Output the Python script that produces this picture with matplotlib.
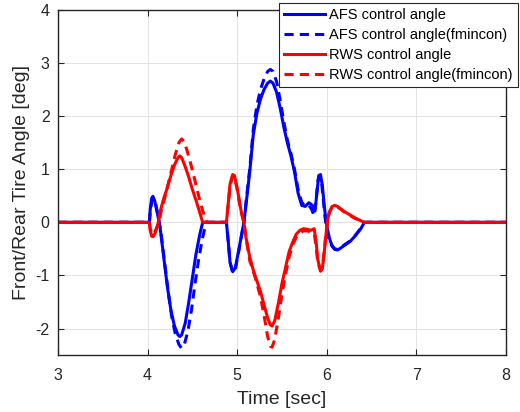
import matplotlib
matplotlib.use("Agg")
import matplotlib.pyplot as plt

plt.rcParams['font.family'] = ['Liberation Sans', 'DejaVu Sans']
plt.rcParams['axes.unicode_minus'] = False

# AFS control angle (solid)
t_afs = [3.0, 4.02, 4.03, 4.045, 4.06, 4.08, 4.10, 4.12, 4.14, 4.18, 4.22, 4.26, 4.30, 4.34, 4.36,
         4.38, 4.42, 4.46, 4.50, 4.54, 4.58, 4.615, 4.88, 4.90, 4.92, 4.95, 4.98, 5.02, 5.075, 5.10,
         5.14, 5.18, 5.22, 5.26, 5.30, 5.34, 5.37, 5.40, 5.44, 5.48, 5.52, 5.56, 5.60, 5.64, 5.68,
         5.72, 5.76, 5.80, 5.84, 5.87, 5.89, 5.91, 5.93, 5.95, 5.97, 5.99, 6.01, 6.03, 6.06, 6.09,
         6.12, 6.15, 6.20, 6.26, 6.32, 6.38, 6.42, 8.0]
afs = [0, 0, 0.25, 0.45, 0.49, 0.40, 0.25, 0.08, -0.10, -0.65, -1.20, -1.65, -1.95, -2.12, -2.15,
       -2.12, -1.90, -1.50, -1.05, -0.60, -0.25, 0, 0, -0.35, -0.75, -0.93, -0.85, -0.50, 0.0, 0.35,
       0.95, 1.65, 2.05, 2.32, 2.50, 2.62, 2.66, 2.62, 2.45, 2.15, 1.80, 1.50, 1.25, 0.95, 0.55,
       0.32, 0.30, 0.37, 0.32, 0.24, 0.55, 0.88, 0.90, 0.70, 0.35, 0.05, -0.15, -0.30, -0.45, -0.51,
       -0.52, -0.49, -0.43, -0.36, -0.25, -0.12, 0, 0]

# AFS control angle (fmincon)
t_afs_f = [3.0, 4.02, 4.03, 4.05, 4.07, 4.09, 4.11, 4.13, 4.15, 4.19, 4.23, 4.27, 4.31, 4.35, 4.38,
           4.41, 4.45, 4.49, 4.53, 4.57, 4.61, 4.64, 4.66, 4.88, 4.90, 4.92, 4.95, 4.98, 5.02, 5.075,
           5.10, 5.14, 5.18, 5.22, 5.26, 5.30, 5.34, 5.37, 5.40, 5.44, 5.48, 5.52, 5.56, 5.60, 5.64,
           5.68, 5.72, 5.76, 5.80, 5.83, 5.86, 5.88, 5.90, 5.92, 5.94, 5.96, 5.98, 6.00, 6.02, 6.05,
           6.09, 6.12, 6.15, 6.20, 6.26, 6.32, 6.38, 6.42, 8.0]
afs_f = [0, 0, 0.20, 0.42, 0.45, 0.35, 0.18, 0.0, -0.20, -0.75, -1.30, -1.78, -2.10, -2.30, -2.37,
         -2.30, -2.05, -1.65, -1.15, -0.70, -0.32, -0.10, 0, 0, -0.35, -0.75, -0.95, -0.88, -0.52, 0.0,
         0.40, 1.00, 1.75, 2.20, 2.50, 2.70, 2.84, 2.88, 2.84, 2.65, 2.30, 1.90, 1.55, 1.30, 1.00,
         0.62, 0.38, 0.30, 0.32, 0.25, 0.12, 0.40, 0.78, 0.88, 0.80, 0.45, 0.10, -0.15, -0.30, -0.42,
         -0.50, -0.51, -0.48, -0.42, -0.35, -0.24, -0.11, 0, 0]

# RWS control angle (solid)
t_rws = [3.0, 4.02, 4.03, 4.045, 4.06, 4.08, 4.10, 4.12, 4.14, 4.18, 4.22, 4.26, 4.30, 4.34, 4.36,
         4.38, 4.42, 4.46, 4.50, 4.54, 4.58, 4.615, 4.88, 4.90, 4.92, 4.95, 4.97, 5.00, 5.04, 5.075,
         5.10, 5.14, 5.18, 5.22, 5.26, 5.30, 5.34, 5.37, 5.39, 5.42, 5.46, 5.50, 5.54, 5.58, 5.62,
         5.66, 5.70, 5.74, 5.78, 5.82, 5.86, 5.88, 5.90, 5.93, 5.95, 5.97, 5.99, 6.01, 6.03, 6.06,
         6.09, 6.12, 6.16, 6.20, 6.26, 6.32, 6.38, 6.42, 8.0]
rws = [0, 0, -0.15, -0.26, -0.27, -0.22, -0.12, 0.0, 0.20, 0.45, 0.65, 0.88, 1.08, 1.22, 1.25,
       1.22, 1.05, 0.85, 0.62, 0.42, 0.20, 0, 0, 0.35, 0.72, 0.90, 0.88, 0.65, 0.25, 0.0,
       -0.30, -0.65, -0.90, -1.10, -1.30, -1.55, -1.80, -1.93, -1.95, -1.85, -1.52, -1.15, -0.85, -0.55, -0.37,
       -0.22, -0.15, -0.12, -0.13, -0.15, -0.12, -0.35, -0.70, -0.92, -0.88, -0.60, -0.25, 0.05, 0.20, 0.30,
       0.32, 0.30, 0.25, 0.20, 0.14, 0.08, 0.03, 0, 0]

# RWS control angle (fmincon)
t_rws_f = [3.0, 4.02, 4.03, 4.05, 4.07, 4.09, 4.11, 4.13, 4.15, 4.19, 4.23, 4.27, 4.31, 4.35, 4.38,
           4.41, 4.45, 4.49, 4.53, 4.57, 4.61, 4.64, 4.66, 4.88, 4.90, 4.92, 4.95, 4.97, 5.00, 5.04,
           5.075, 5.10, 5.14, 5.18, 5.22, 5.26, 5.30, 5.34, 5.37, 5.39, 5.42, 5.46, 5.50, 5.54, 5.58,
           5.62, 5.66, 5.70, 5.74, 5.78, 5.82, 5.86, 5.88, 5.90, 5.93, 5.95, 5.97, 5.99, 6.01, 6.03,
           6.06, 6.09, 6.12, 6.16, 6.20, 6.26, 6.32, 6.38, 6.42, 8.0]
rws_f = [0, 0, -0.12, -0.22, -0.22, -0.15, -0.07, 0.0, 0.20, 0.45, 0.72, 1.00, 1.28, 1.50, 1.57,
         1.52, 1.30, 1.05, 0.78, 0.50, 0.25, 0.08, 0, 0, 0.32, 0.68, 0.88, 0.85, 0.62, 0.22,
         0.0, -0.30, -0.72, -0.92, -1.15, -1.40, -1.75, -2.15, -2.33, -2.35, -2.20, -1.80, -1.35, -0.98, -0.65,
         -0.42, -0.28, -0.20, -0.16, -0.16, -0.18, -0.20, -0.45, -0.75, -0.90, -0.85, -0.58, -0.22, 0.05, 0.19,
         0.29, 0.31, 0.29, 0.24, 0.19, 0.13, 0.07, 0.03, 0, 0]

x_ticks = [3, 4, 5, 6, 7, 8]
y_ticks = [-2, -1, 0, 1, 2, 3, 4]

fig = plt.figure(figsize=(5.2, 4.12), dpi=100)
ax = fig.add_axes([0.1115, 0.138, 0.8615, 0.838])

lw = 2.2
ax.plot(t_afs, afs, color='#0000ff', lw=lw, label='AFS control angle')
ax.plot(t_afs_f, afs_f, color='#0000ff', lw=lw, ls=(0, (3, 2)), label='AFS control angle(fmincon)')
ax.plot(t_rws, rws, color='#ff0000', lw=lw, label='RWS control angle')
ax.plot(t_rws_f, rws_f, color='#ff0000', lw=lw, ls=(0, (3, 2)), label='RWS control angle(fmincon)')

ax.set_xlim(3, 8)
ax.set_ylim(-2.5, 4)
ax.set_xticks(x_ticks)
ax.set_yticks(y_ticks)
ax.grid(True, color='#e3e3e3', lw=0.7)
ax.set_axisbelow(True)
ax.tick_params(direction='in', top=True, right=True, labelsize=11.5, colors='#262626', length=4)
ax.tick_params(axis='x', pad=9)
ax.tick_params(axis='y', pad=6)
for s in ax.spines.values():
    s.set_color('#262626')
    s.set_linewidth(1.0)

ax.set_xlabel('Time [sec]', fontsize=14, color='#262626', labelpad=6)
ax.set_ylabel('Front/Rear Tire Angle [deg]', fontsize=14, color='#262626', labelpad=4)

leg = fig.legend(loc='upper right', bbox_to_anchor=(0.996, 0.993), borderaxespad=0, fontsize=10.5,
                 handlelength=2.8, handletextpad=0.3, borderpad=0.35, labelspacing=0.42,
                 fancybox=False, framealpha=1, edgecolor='#262626')
leg.get_frame().set_linewidth(0.8)

fig.savefig('out.png', dpi=100)
